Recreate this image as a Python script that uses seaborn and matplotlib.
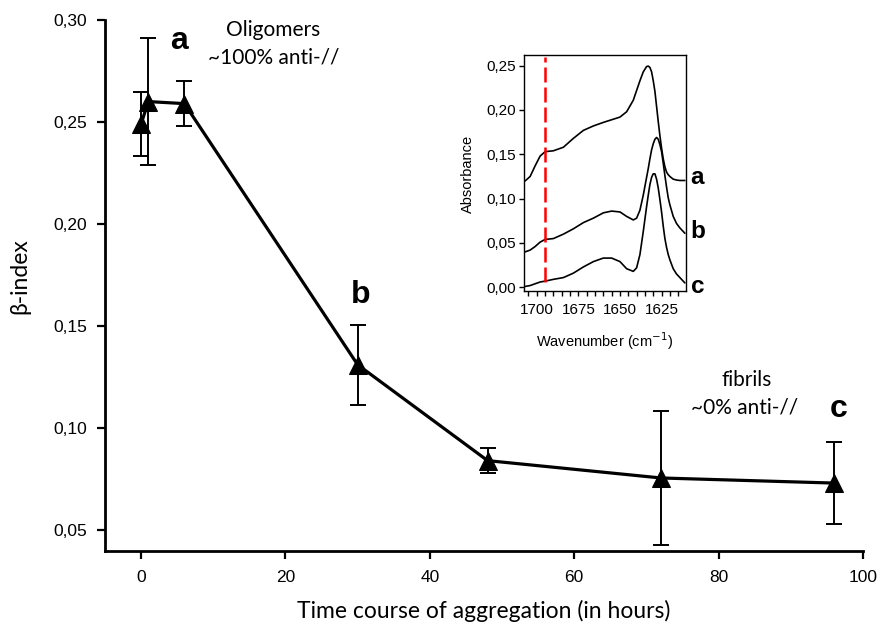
import matplotlib
matplotlib.use('Agg')
import matplotlib.pyplot as plt
from matplotlib.ticker import FuncFormatter, MultipleLocator
import seaborn as sns
import pandas as pd

# main curve: beta-index vs time
hours = [0, 1, 6, 30, 48, 72, 96]
beta_index = [0.249, 0.260, 0.259, 0.131, 0.084, 0.0755, 0.073]
beta_err = [0.0155, 0.031, 0.011, 0.0195, 0.0063, 0.033, 0.020]

# inset FTIR spectra
wavenumber = [1707, 1704, 1701, 1698, 1695, 1690, 1684, 1678, 1672, 1666,
              1660, 1655, 1650, 1646, 1642, 1640, 1638, 1636, 1635, 1634,
              1633, 1632, 1631, 1630, 1629, 1628, 1627, 1626, 1625, 1624,
              1623, 1622, 1621, 1620, 1618, 1616, 1614, 1611]
absorb_a = [0.120, 0.125, 0.137, 0.148, 0.153, 0.154, 0.158, 0.168, 0.177, 0.182,
            0.186, 0.189, 0.192, 0.198, 0.211, 0.222, 0.233, 0.243, 0.246, 0.249,
            0.2495, 0.248, 0.243, 0.233, 0.221, 0.204, 0.187, 0.171, 0.157, 0.145,
            0.136, 0.130, 0.127, 0.125, 0.122, 0.121, 0.1205, 0.1205]
absorb_b = [0.040, 0.042, 0.046, 0.051, 0.054, 0.055, 0.060, 0.066, 0.073, 0.078,
            0.084, 0.086, 0.085, 0.080, 0.076, 0.078, 0.087, 0.104, 0.114, 0.124,
            0.134, 0.145, 0.155, 0.162, 0.167, 0.169, 0.167, 0.161, 0.153, 0.140,
            0.126, 0.113, 0.101, 0.093, 0.080, 0.072, 0.067, 0.061]
absorb_c = [0.001, 0.002, 0.004, 0.006, 0.007, 0.009, 0.011, 0.016, 0.023, 0.029,
            0.033, 0.033, 0.029, 0.021, 0.018, 0.022, 0.037, 0.063, 0.077, 0.091,
            0.104, 0.116, 0.124, 0.128, 0.128, 0.122, 0.112, 0.099, 0.085, 0.069,
            0.055, 0.045, 0.037, 0.031, 0.021, 0.015, 0.011, 0.005]
marker_wn = 1695

sns.set_style('ticks')
plt.rcParams['font.family'] = ['Liberation Sans', 'DejaVu Sans']
for k in ['text.color', 'axes.labelcolor', 'xtick.color', 'ytick.color', 'axes.edgecolor']:
    plt.rcParams[k] = 'black'
text_font = ['Lato', 'DejaVu Sans']

comma = FuncFormatter(lambda v, p: f'{v:.2f}'.replace('.', ','))

fig = plt.figure(figsize=(8.8, 6.28), dpi=100)

# ---- main plot
ax = fig.add_axes([0.1193, 0.1226, 0.8614, 0.8456])
df = pd.DataFrame({'t': hours, 'beta': beta_index})
ax.errorbar(hours, beta_index, yerr=beta_err, fmt='none', ecolor='black',
            elinewidth=1.4, capsize=6, capthick=1.4, zorder=2)
sns.lineplot(data=df, x='t', y='beta', ax=ax, color='black', linewidth=2.3,
             marker='^', markersize=12.5, markeredgecolor='black', zorder=3)
ax.set_xlim(-5, 100)
ax.set_ylim(0.0397, 0.30)
ax.set_xticks([0, 20, 40, 60, 80, 100])
ax.set_yticks([0.05, 0.10, 0.15, 0.20, 0.25, 0.30])
ax.yaxis.set_major_formatter(comma)
sns.despine(ax=ax)
for s in ['left', 'bottom']:
    ax.spines[s].set_linewidth(2)
ax.tick_params(axis='both', labelsize=12.5, width=1.6, length=6, color='black')
ax.tick_params(axis='y', pad=7)
ax.tick_params(axis='x', pad=8)
ax.set_xlabel('Time course of aggregation (in hours)', fontsize=16.5, family=text_font)
ax.set_ylabel('β-index', fontsize=16.5, family=text_font)
ax.xaxis.set_label_coords(0.5, -0.113)
ax.xaxis.label.set_va('center')
ax.yaxis.set_label_coords(-0.112, 0.518)
ax.yaxis.label.set_va('center')

ax.text(4.0, 0.2856, 'a', fontsize=23, fontweight='bold', ha='left', va='baseline')
ax.text(29.1, 0.1611, 'b', fontsize=23, fontweight='bold', ha='left', va='baseline')
ax.text(95.4, 0.1054, 'c', fontsize=23, fontweight='bold', ha='left', va='baseline')
ax.text(18.3, 0.2951, 'Oligomers', fontsize=15, family=text_font, ha='center', va='center')
ax.text(18.3, 0.2814, '~100% anti-//', fontsize=15, family=text_font, ha='center', va='center')
ax.text(83.9, 0.1235, 'fibrils', fontsize=15, family=text_font, ha='center', va='center')
ax.text(83.6, 0.1098, '~0% anti-//', fontsize=15, family=text_font, ha='center', va='center')

# ---- inset spectra
ins = fig.add_axes([0.5958, 0.5371, 0.1834, 0.3753])
spec = pd.DataFrame({'wn': wavenumber, 'a': absorb_a, 'b': absorb_b, 'c': absorb_c})
for col in ['a', 'b', 'c']:
    sns.lineplot(data=spec, x='wn', y=col, ax=ins, color='black', linewidth=1.2)
ins.vlines(marker_wn, 0.006, 0.26, colors='#ff0000', linewidth=1.8,
           linestyles=(0, (6, 2)))
ins.set_xlim(1707.5, 1610.5)
ins.set_ylim(-0.0038, 0.262)
ins.set_xticks([1700, 1675, 1650, 1625])
ins.xaxis.set_minor_locator(MultipleLocator(5))
ins.set_yticks([0.0, 0.05, 0.10, 0.15, 0.20, 0.25])
ins.yaxis.set_major_formatter(comma)
for s in ins.spines.values():
    s.set_linewidth(1.0)
ins.tick_params(axis='both', which='both', labelsize=11, width=1, length=3.5, color='black')
ins.tick_params(axis='y', pad=2.5)
ins.tick_params(axis='x', pad=5)
ins.set_xlabel('Wavenumber (cm$^{-1}$)', fontsize=10.5)
ins.set_ylabel('Absorbance', fontsize=10.5)
ins.xaxis.set_label_coords(0.5, -0.216)
ins.xaxis.label.set_va('center')
ins.yaxis.set_label_coords(-0.347, 0.495)
ins.yaxis.label.set_va('center')

for lab, yb in zip(['a', 'b', 'c'], [0.1165, 0.0553, -0.0068]):
    ins.text(1607.6, yb, lab, fontsize=17.5, fontweight='bold', ha='left',
             va='baseline', clip_on=False)

fig.savefig('out.png', dpi=100)
